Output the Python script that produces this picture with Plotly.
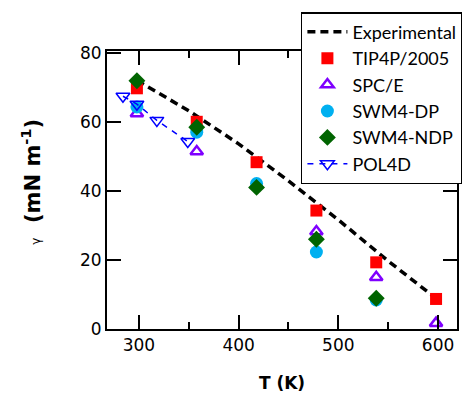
import plotly.graph_objects as go

# Experimental (line)
exp_T = [298, 350, 400, 450, 500, 550, 600]
exp_g = [71.97, 63.2, 53.6, 42.9, 31.6, 19.7, 8.4]

# Simulations
T6 = [298, 358, 418, 478, 538, 598]
tip4p = [69.7, 60.0, 48.3, 34.3, 19.3, 8.7]
spce = [62.4, 51.4, 41.6, 28.2, 15.0, 1.7]
T5 = [298, 358, 418, 478, 538]
swm4dp = [64.3, 57.0, 42.1, 22.3, 8.4]
swm4ndp = [71.9, 58.4, 41.0, 26.0, 8.9]
pol4d_T = [284, 298, 318, 349]
pol4d = [67.4, 65.1, 60.4, 54.3]

fig = go.Figure()
fig.add_trace(go.Scatter(x=exp_T, y=exp_g, mode="lines", name="Experimental",
                         line=dict(color="black", width=3.5, dash="8px,5px")))
fig.add_trace(go.Scatter(x=T6, y=tip4p, mode="markers", name="TIP4P/2005",
                         marker=dict(symbol="square", size=12, color="#ff0000")))
fig.add_trace(go.Scatter(x=T6, y=spce, mode="markers", name="SPC/E",
                         marker=dict(symbol="triangle-up-open", size=11, color="#7f00ff",
                                     line=dict(width=2.5, color="#7f00ff"))))
fig.add_trace(go.Scatter(x=T5, y=swm4dp, mode="markers", name="SWM4-DP",
                         marker=dict(symbol="circle", size=13, color="#00b0f0")))
fig.add_trace(go.Scatter(x=T5, y=swm4ndp, mode="markers", name="SWM4-NDP",
                         marker=dict(symbol="diamond", size=13, color="#006400")))
fig.add_trace(go.Scatter(x=pol4d_T, y=pol4d, mode="lines+markers", name="POL4D",
                         line=dict(color="#0000ff", width=1.5, dash="6px,6px"),
                         marker=dict(symbol="triangle-down-open", size=12, color="#0000ff",
                                     line=dict(width=1.5, color="#0000ff"))))

axis_common = dict(showline=True, linecolor="black", linewidth=2, mirror="allticks",
                   ticks="inside", ticklen=14, tickwidth=2, tickcolor="black",
                   showgrid=False, zeroline=False, automargin=False,
                   tickfont=dict(family="DejaVu Sans", size=17, color="black"))

ytitle = ("<span style='font-size:12px;font-weight:normal'>γ</span>"
          "\u00a0\u00a0(mN m<sup>-1</sup>)")

fig.update_layout(
    width=462, height=397,
    margin=dict(l=107, r=5, t=51, b=68, autoexpand=False),
    plot_bgcolor="white", paper_bgcolor="white",
    showlegend=True,
    legend=dict(x=0.554, y=1.14, xanchor="left", yanchor="top",
                bgcolor="white", bordercolor="black", borderwidth=1.5,
                font=dict(family="Lato", size=18, color="black"),
                tracegroupgap=0, itemwidth=40),
    xaxis=dict(range=[268, 619], tickvals=[300, 400, 500, 600],
               minor=dict(tickvals=[350, 450, 550], ticks="inside", ticklen=7,
                          tickwidth=2, tickcolor="black"),
               title=dict(text="T (K)", font=dict(family="DejaVu Sans", size=17,
                                                  color="black", weight="bold"), standoff=23),
               **axis_common),
    yaxis=dict(range=[0, 80.5], tickvals=[0, 20, 40, 60, 80], **axis_common),
    annotations=[dict(text=ytitle, textangle=-90, showarrow=False,
                      xref="paper", yref="paper", x=-0.217, y=0.53,
                      xanchor="center", yanchor="middle",
                      font=dict(family="DejaVu Sans", size=21, color="black", weight="bold"))],
)

fig.write_html("out.html", config=dict(displayModeBar=False),
               post_script="document.body.style.margin='0px';document.body.style.overflow='hidden';")
